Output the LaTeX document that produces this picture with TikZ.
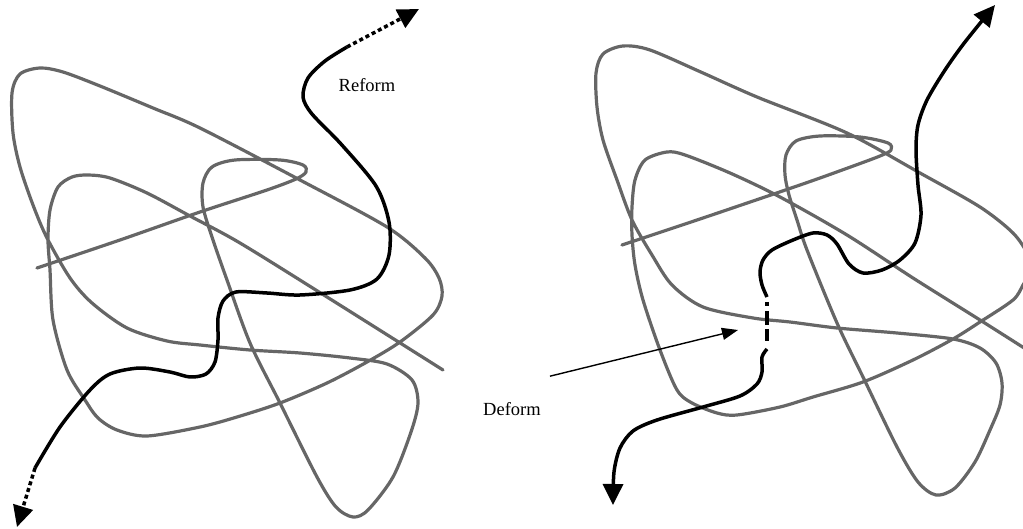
\documentclass[tikz,border=0pt]{standalone}
\usepackage{fontspec}
\setmainfont{Liberation Serif}
\usetikzlibrary{arrows.meta}

\definecolor{chaingray}{RGB}{102,102,102}

\begin{document}
\begin{tikzpicture}[
    x=1pt, y=-1pt,
    every node/.style={font=\fontsize{18.5}{20}\selectfont, inner sep=0pt},
    tangle/.style={draw=chaingray, line width=3.2pt, line cap=round, line join=round},
    strand/.style={draw=black, line width=3.5pt, line join=round},
    dashtail/.style={strand, dash pattern=on 4pt off 3pt},
    arrowend/.style={-{Triangle[length=21pt, width=20pt]}},
    pointer/.style={-{Triangle[length=16pt, width=12pt]}, line width=1.4pt}
]
    \clip (0,0) rectangle (1023,529);

    % left: chain reforming
    \draw [tangle] plot [smooth] coordinates {(37,268) (120,240) (200,212) (267,190) (296,179) (306,172) (303,165) (280,160) (235,160) (212,167) (203,183) (203,207) (213,240) (227,280) (250,343) (280,403) (317,477) (336,507) (353,517) (368,510) (393,477) (411,432) (418,403) (412,380) (387,364) (350,358) (300,353) (250,350) (200,345) (167,341) (127,328) (92,303) (70,278) (47,238) (33,205) (20,167) (13,133) (12,93) (20,74) (40,68) (63,72) (100,86) (153,108) (200,128) (300,180) (387,227) (425,258) (439,278) (442,296) (433,315) (400,342) (367,362) (327,383) (280,403) (237,417) (200,427) (147,436) (117,430) (98,418) (85,400) (67,370) (53,320) (50,270) (48,240) (50,210) (58,187) (72,177) (88,175) (110,178) (147,193) (190,216) (240,243) (327,297) (443,370)};
    \draw [strand] plot [smooth] coordinates {(35,468) (60,427) (90,390) (110,374) (140,368) (170,372) (190,377) (206,374) (215,362) (218,340) (218,318) (223,301) (236,292) (267,293) (300,295) (350,290) (377,279) (389,255) (389,222) (376,186) (341,144) (312,114) (303,97) (308,78) (325,61) (347,47)};
    \draw [dashtail, arrowend] (347,47) -- (419,9);
    \draw [dashtail, arrowend] (35,468) -- (17,527);
    \node (reform) at (367,85) {Reform};

    % right: chain deforming
    \draw [tangle] plot [smooth] coordinates {(622,245) (700,219) (800,185) (845,169) (880,156) (891,150) (888,143) (860,137) (820,136) (796,141) (786,155) (785,175) (789,195) (797,220) (807,250) (837,323) (863,377) (897,447) (918,482) (936,495) (955,488) (975,462) (990,430) (1000,405) (1002,383) (996,363) (980,348) (953,339) (897,333) (837,328) (790,322) (753,318) (703,307) (672,285) (652,255) (632,220) (617,180) (603,140) (597,107) (596,73) (603,54) (623,46) (650,50) (703,73) (757,97) (847,133) (920,173) (980,207) (1013,233) (1028,255) (1030,272) (1023,285) (1013,300) (980,322) (953,339) (913,360) (863,382) (813,397) (780,407) (737,415) (717,413) (692,403) (677,390) (660,350) (643,300) (635,265) (632,235) (632,207) (635,180) (645,160) (667,152) (685,155) (730,173) (780,197) (847,235) (913,278) (980,320) (1032,353)};
    \draw [strand, arrowend] plot [smooth] coordinates {(767,297) (762,285) (760,272) (763,260) (772,250) (793,240) (813,233) (827,235) (837,244) (849,264) (863,273) (882,270) (900,260) (915,243) (921,215) (918,185) (916,150) (918,125) (927,100) (945,70) (965,42) (995,5)};
    \draw [strand, line width=4.5pt, dash pattern=on 4pt off 5pt on 14pt off 4pt on 12pt off 50pt] (767,302) -- (767,344);
    \draw [strand, arrowend] plot [smooth] coordinates {(767,349) (762,357) (762,372) (757,384) (740,396) (703,407) (657,420) (633,431) (620,448) (614,472) (613,505)};
    \node (deform) at (512,409) {Deform};
    \coordinate (gapmark) at (738,330);
    \draw [pointer] ([xshift=9pt, yshift=26pt]deform.north east) -- (gapmark);
\end{tikzpicture}
\end{document}
